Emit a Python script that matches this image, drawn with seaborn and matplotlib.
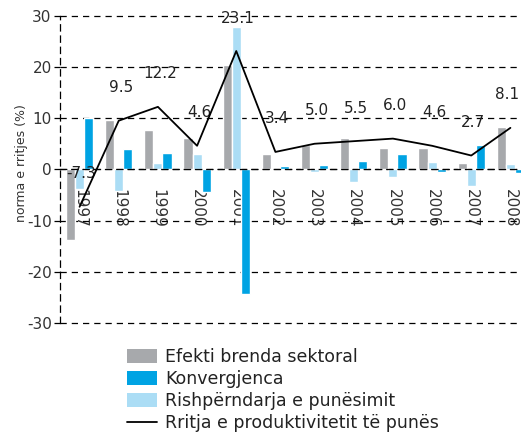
import numpy as np
import pandas as pd
import matplotlib
matplotlib.use("Agg")
import matplotlib.pyplot as plt
import seaborn as sns
from matplotlib.patches import Patch
from matplotlib.lines import Line2D

years = ["1997", "1998", "1999", "2000", "2001", "2002", "2003", "2004", "2005", "2006", "2007", "2008"]
within = [-13.8, 9.7, 7.7, 6.2, 20.3, 2.9, 4.8, 6.2, 4.1, 4.1, 1.3, 8.2]
convergence = [10.1, 4.0, 3.2, -4.5, -24.4, 0.6, 0.9, 1.7, 2.9, -0.5, 4.8, -0.8]
realloc = [-3.8, -4.3, 1.3, 2.9, 27.7, 0.0, -0.5, -2.5, -1.4, 1.4, -3.3, 1.0]
growth = [-7.3, 9.5, 12.2, 4.6, 23.1, 3.4, 5.0, 5.5, 6.0, 4.6, 2.7, 8.1]
growth_labels = ["-7.3", "9.5", "12.2", "4.6", "23.1", "3.4", "5.0", "5.5", "6.0", "4.6", "2.7", "8.1"]
yticks = [-30, -20, -10, 0, 10, 20, 30]

s_within = "Efekti brenda sektoral"
s_conv = "Konvergjenca"
s_realloc = "Rishpërndarja e punësimit"
s_growth = "Rritja e produktivitetit të punës"

c_gray = "#A7A9AC"
c_blue = "#00A3E3"
c_light = "#ABDDF5"

df = pd.DataFrame({
    "year": years * 3,
    "value": within + realloc + convergence,
    "series": [s_within] * 12 + [s_realloc] * 12 + [s_conv] * 12,
})

sns.set_style("white")
plt.rcParams["font.family"] = ["DejaVu Sans"]

fig = plt.figure(figsize=(5.21, 4.34), dpi=100)
ax_bottom_px = 325.6
ax_top_px = 13.1
ax = fig.add_axes([60 / 521, (434 - ax_bottom_px) / 434, 470 / 521, (ax_bottom_px - ax_top_px) / 434])

sns.barplot(data=df, x="year", y="value", hue="series",
            hue_order=[s_within, s_realloc, s_conv],
            palette=[c_gray, c_light, c_blue], order=years,
            width=0.7, gap=0, dodge=True, ax=ax, legend=False,
            saturation=1, zorder=2)

xs = np.arange(len(years))
sns.lineplot(x=xs, y=growth, color="black", linewidth=1.3, ax=ax, zorder=4)

for i, (x, v, lab) in enumerate(zip(xs, growth, growth_labels)):
    dx = -3 if i == len(xs) - 1 else 2
    ax.annotate(lab, (x, v), xytext=(dx, 33), textcoords="offset pixels",
                ha="center", va="center", fontsize=11, color="#222222")

ax.set_xlim(-0.5, 11.5)
ax.set_ylim(-30.5, 30.5)
ax.set_yticks(yticks)
ax.set_yticklabels([str(t) for t in yticks], fontsize=11, color="#333333")
ax.yaxis.grid(True, linestyle=(0, (5, 4)), color="black", linewidth=0.9, zorder=0)
ax.set_axisbelow(True)

for sp in ["top", "right"]:
    ax.spines[sp].set_visible(False)
ax.spines["left"].set_linestyle((0, (5, 4)))
ax.spines["left"].set_linewidth(0.9)
ax.spines["left"].set_color("black")
ax.spines["left"].set_bounds(-30, 30)
ax.spines["bottom"].set_position(("data", 0))
ax.spines["bottom"].set_linestyle((0, (5, 4)))
ax.spines["bottom"].set_linewidth(0.9)
ax.spines["bottom"].set_color("black")
ax.spines["bottom"].set_zorder(3)

ax.set_xticks(xs)
ax.set_xticklabels(years, rotation=270, fontsize=11, color="#333333")
ax.tick_params(axis="x", which="major", length=0, pad=14)
ax.set_xticks(np.arange(len(years) + 1) - 0.5, minor=True)
ax.tick_params(axis="x", which="minor", length=5, width=0.9, color="black", direction="out")
ax.tick_params(axis="y", length=4, width=0.9, color="black", left=True, pad=2)

ax.set_xlabel("")
ax.set_ylabel("norma e rritjes (%)", fontsize=9, color="#333333")
ax.yaxis.set_label_coords(-0.068, 0.52)

handles = [Patch(facecolor=c_gray, edgecolor="none"),
           Patch(facecolor=c_blue, edgecolor="none"),
           Patch(facecolor=c_light, edgecolor="none"),
           Line2D([0], [0], color="black", linewidth=1.3)]
fig.legend(handles, [s_within, s_conv, s_realloc, s_growth],
           loc="upper left", bbox_to_anchor=(127 / 521, 1 - 348 / 434),
           frameon=False, fontsize=12.5, borderpad=0, borderaxespad=0,
           handlelength=1.75, handleheight=0.85, handletextpad=0.45,
           labelspacing=0.24, labelcolor="#222222")

fig.savefig("out.png", dpi=100)
